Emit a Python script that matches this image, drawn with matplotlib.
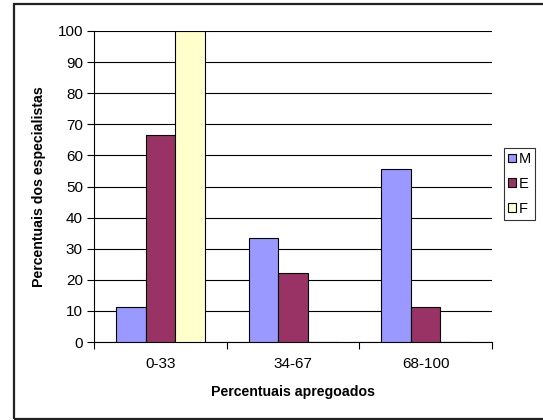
import numpy as np
import matplotlib
matplotlib.use("Agg")
import matplotlib.pyplot as plt
from matplotlib.patches import Rectangle

plt.rcParams['font.family'] = ['Liberation Sans', 'DejaVu Sans']

categories = ['0-33', '34-67', '68-100']
series_names = ['M', 'E', 'F']
m_values = [11.1, 33.3, 55.6]
e_values = [66.7, 22.2, 11.1]
f_values = [100.0, 0.0, 0.0]
colors = ['#9999FF', '#993366', '#FFFFCC']

W, H = 543, 420
fig = plt.figure(figsize=(W / 100, H / 100), dpi=100)

# chart frame
fig.patches.append(Rectangle((14 / W, 1 - 419 / H), 540 / W, 415 / H,
                             transform=fig.transFigure, fill=False,
                             edgecolor='#222222', linewidth=1.6, zorder=0))

ax = fig.add_axes([94 / W, 1 - 342 / H, 398 / W, 311 / H])

x = np.arange(len(categories))
bw = 1 / 4.5
for i, (name, vals) in enumerate(zip(series_names, [m_values, e_values, f_values])):
    ax.bar(x + (i - 1) * bw, vals, width=bw, color=colors[i], edgecolor='black',
           linewidth=0.8, label=name, zorder=3)

ax.set_xlim(-0.5, 2.5)
ax.set_ylim(0, 100)
ax.set_yticks(range(0, 101, 10))
ax.yaxis.grid(True, color='black', linewidth=0.8, zorder=0)
ax.set_axisbelow(True)

ax.set_xticks(x)
ax.set_xticklabels(categories)
ax.set_xticks([-0.5, 0.5, 1.5, 2.5], minor=True)
ax.tick_params(axis='x', which='major', length=0, pad=11, labelsize=11)
ax.tick_params(axis='x', which='minor', length=5, width=0.8, direction='out')
ax.tick_params(axis='y', length=5, width=0.8, direction='out', labelsize=11, pad=3)

for s in ['top', 'right']:
    ax.spines[s].set_visible(False)
for s in ['left', 'bottom']:
    ax.spines[s].set_linewidth(0.8)

ax.set_xlabel('Percentuais apregoados', fontsize=10.2, fontweight='bold', labelpad=10)
ax.set_ylabel('Percentuais dos especialistas', fontsize=10.2, fontweight='bold', labelpad=8)

leg = fig.legend(loc='upper left', bbox_to_anchor=(504 / W, 1 - 148 / H),
                 fontsize=10.5, frameon=True, fancybox=False, handlelength=0.55,
                 handleheight=0.55, handletextpad=0.2, borderpad=0.28,
                 labelspacing=0.75, borderaxespad=0)
leg.get_frame().set_edgecolor('black')
leg.get_frame().set_linewidth(0.8)

fig.savefig('out.png', dpi=100)
